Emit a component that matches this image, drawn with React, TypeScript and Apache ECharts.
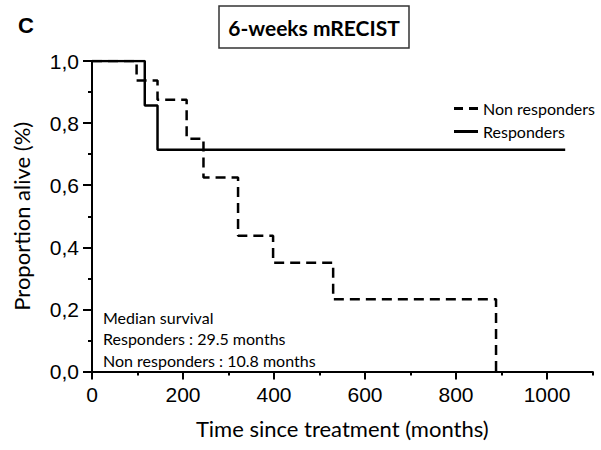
import React, { useEffect, useRef } from "react";
import * as echarts from "echarts";

const responders: [number, number][] = [
  [0, 1],
  [116, 0.857],
  [144, 0.714],
  [1040, 0.714],
];

const nonResponders: [number, number][] = [
  [0, 1],
  [98, 0.9375],
  [144, 0.875],
  [208, 0.75],
  [245, 0.625],
  [321, 0.4375],
  [398, 0.35],
  [530, 0.233],
  [888, 0],
];

const xMajorTicks = [0, 200, 400, 600, 800, 1000];
const xMinorTicks = [100, 300, 500, 700, 900, 1100];
const yMajorTicks = [0, 0.2, 0.4, 0.6, 0.8, 1.0];
const yMinorTicks = [0.1, 0.3, 0.5, 0.7, 0.9];

const annotationLines = [
  "Median survival",
  "Responders : 29.5 months",
  "Non responders : 10.8 months",
];

const TICK_FONT = "'Liberation Sans', Arial, sans-serif";
const TEXT_FONT = "Lato, 'Open Sans', sans-serif";

export default function App() {
  const ref = useRef<HTMLDivElement>(null);
  useEffect(() => {
    if (!ref.current) return;
    const chart = echarts.init(ref.current, undefined, { renderer: "svg" });
    const axisLine = { show: true, lineStyle: { color: "#000", width: 2 } };
    chart.setOption({
      animation: false,
      backgroundColor: "#fff",
      grid: { left: 92, top: 61, right: 8.5, bottom: 78.5, containLabel: false },
      xAxis: [
        {
          type: "value",
          min: 0,
          max: 1100,
          axisLine,
          splitLine: { show: false },
          axisTick: { show: true, customValues: xMajorTicks, length: 8, lineStyle: { color: "#000", width: 2 } },
          axisLabel: {
            customValues: xMajorTicks,
            margin: 12,
            color: "#000",
            fontSize: 21,
            fontFamily: TICK_FONT,
            formatter: (v: number) => String(v),
          },
          name: "Time since treatment (months)",
          nameLocation: "middle",
          nameGap: 46,
          nameTextStyle: { color: "#000", fontSize: 22, fontFamily: TEXT_FONT },
        },
        {
          type: "value",
          min: 0,
          max: 1100,
          position: "bottom",
          axisLine: { show: false },
          splitLine: { show: false },
          axisTick: { show: true, customValues: xMinorTicks, length: 4, lineStyle: { color: "#000", width: 2 } },
          axisLabel: { show: false },
        },
      ],
      yAxis: [
        {
          type: "value",
          min: 0,
          max: 1,
          axisLine,
          splitLine: { show: false },
          axisTick: { show: true, customValues: yMajorTicks, length: 9, lineStyle: { color: "#000", width: 2 } },
          axisLabel: {
            customValues: yMajorTicks,
            margin: 13,
            color: "#000",
            fontSize: 21,
            fontFamily: TICK_FONT,
            formatter: (v: number) => v.toFixed(1).replace(".", ","),
          },
          name: "Proportion alive (%)",
          nameLocation: "middle",
          nameGap: 60,
          nameTextStyle: { color: "#000", fontSize: 22, fontFamily: TEXT_FONT },
        },
        {
          type: "value",
          min: 0,
          max: 1,
          position: "left",
          axisLine: { show: false },
          splitLine: { show: false },
          axisTick: { show: true, customValues: yMinorTicks, length: 4, lineStyle: { color: "#000", width: 2 } },
          axisLabel: { show: false },
        },
      ],
      legend: {
        orient: "vertical",
        left: 449,
        top: 95,
        itemWidth: 24,
        itemHeight: 3,
        itemGap: 6,
        textStyle: { color: "#000", fontSize: 16, fontFamily: TEXT_FONT, lineHeight: 17 },
        data: [
          { name: "Non responders", icon: "path://M0,0h9v3h-9z M15,0h9v3h-9z", itemStyle: { color: "#000" } },
          { name: "Responders", icon: "path://M0,0h24v3h-24z", itemStyle: { color: "#000" } },
        ],
      },
      series: [
        {
          name: "Responders",
          type: "line",
          step: "end",
          data: responders,
          symbol: "none",
          lineStyle: { color: "#000", width: 2.5, type: "solid" },
          itemStyle: { color: "#000" },
          z: 2,
        },
        {
          name: "Non responders",
          type: "line",
          step: "end",
          data: nonResponders,
          symbol: "none",
          lineStyle: { color: "#000", width: 2.5, type: [10, 6] },
          itemStyle: { color: "#000" },
          z: 3,
        },
      ],
      graphic: [
        {
          type: "text",
          left: 18,
          top: 14,
          style: { text: "C", fontSize: 22, fontWeight: "bold", fontFamily: TICK_FONT, fill: "#000" },
        },
        {
          type: "rect",
          shape: { x: 219, y: 6, width: 190, height: 42 },
          style: { fill: "#fff", stroke: "#333", lineWidth: 1.5 },
        },
        {
          type: "text",
          x: 314,
          y: 27,
          style: {
            text: "6-weeks mRECIST",
            fontSize: 21,
            fontWeight: "bold",
            fontFamily: TEXT_FONT,
            fill: "#000",
            align: "center",
            verticalAlign: "middle",
          },
        },
        ...annotationLines.map((t, i) => ({
          type: "text",
          x: 103,
          y: 317 + i * 21.7,
          style: {
            text: t,
            fontSize: 16,
            fontFamily: TEXT_FONT,
            fill: "#000",
            align: "left",
            verticalAlign: "middle",
          },
        })),
      ],
    });
    return () => chart.dispose();
  }, []);
  return (
    <div
      ref={ref}
      style={{ position: "absolute", left: 0, top: 0, width: 601, height: 450, background: "#fff" }}
    />
  );
}
